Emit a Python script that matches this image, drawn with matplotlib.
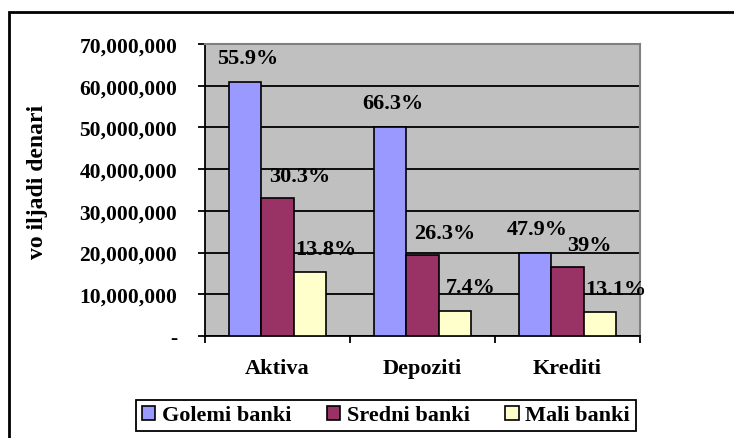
import numpy as np
import matplotlib
matplotlib.use('Agg')
import matplotlib.pyplot as plt
from matplotlib.patches import Rectangle
from matplotlib.ticker import FuncFormatter, MultipleLocator

# Banking sector structure by bank group
categories = ['Aktiva', 'Depoziti', 'Krediti']
series_names = ['Golemi banki', 'Sredni banki', 'Mali banki']
golemi = [60900000, 50100000, 19900000]
sredni = [33100000, 19400000, 16500000]
mali = [15300000, 6000000, 5700000]
golemi_pct = ['55.9%', '66.3%', '47.9%']
sredni_pct = ['30.3%', '26.3%', '39%']
mali_pct = ['13.8%', '7.4%', '13.1%']
y_label = 'vo iljadi denari'

colors = ['#9999FF', '#993366', '#FFFFCC']
label_offsets = [(2, 17), (16, 16), (11, 17)]

plt.rcParams['font.family'] = ['Liberation Serif', 'DejaVu Serif']
plt.rcParams['font.weight'] = 'bold'

fig = plt.figure(figsize=(7.34, 4.39), dpi=100)
ax = fig.add_axes([205/734, 1 - 337/439, 435/734, 292/439])
ax.set_facecolor('#C0C0C0')

x = np.arange(len(categories))
w = 0.225
all_vals = [golemi, sredni, mali]
all_pct = [golemi_pct, sredni_pct, mali_pct]
for i, (vals, pct) in enumerate(zip(all_vals, all_pct)):
    pos = x + (i - 1) * w
    ax.bar(pos, vals, w, color=colors[i], edgecolor='black', linewidth=1.2,
           label=series_names[i], zorder=3)
    for xp, v, t in zip(pos, vals, pct):
        ax.annotate(t, (xp, v), xytext=label_offsets[i], textcoords='offset points',
                    ha='center', va='center', fontsize=16, fontweight='bold', zorder=4)

ax.set_xlim(-0.5, 2.5)
ax.set_ylim(0, 70000000)
ax.yaxis.set_major_locator(MultipleLocator(10000000))
ax.yaxis.set_major_formatter(FuncFormatter(lambda v, p: '-' if v == 0 else f'{int(v):,}'))
ax.grid(axis='y', color='black', linewidth=1.3, zorder=1)

ax.set_xticks([-0.5, 0.5, 1.5, 2.5])
ax.set_xticklabels([])
ax.set_xticks(x, minor=True)
ax.set_xticklabels(categories, minor=True, fontsize=16, fontweight='bold')
ax.tick_params(axis='x', which='minor', length=0, pad=16)
ax.tick_params(axis='x', which='major', length=5, width=1.3, direction='out')
ax.tick_params(axis='y', length=5, width=1.3, direction='out', pad=15, labelsize=15.5)
for lb in ax.get_yticklabels():
    lb.set_fontweight('bold')

ax.spines['left'].set_color('black')
ax.spines['left'].set_linewidth(1.3)
ax.spines['bottom'].set_color('black')
ax.spines['bottom'].set_linewidth(1.3)
ax.spines['top'].set_color('#808080')
ax.spines['top'].set_linewidth(1.5)
ax.spines['right'].set_color('#808080')
ax.spines['right'].set_linewidth(1.5)

fig.text(38/734, 1 - 182/439, y_label, rotation=90, ha='center', va='center',
         fontsize=17, fontweight='bold')

leg = fig.legend(loc='center', bbox_to_anchor=(386/734, 1 - 416.5/439), ncol=3,
                 fancybox=False, edgecolor='black', framealpha=1, fontsize=16,
                 handlelength=0.6, handleheight=0.6, handletextpad=0.3,
                 columnspacing=1.6, borderpad=0.25, borderaxespad=0)
leg.get_frame().set_linewidth(1.3)

fig.patches.append(Rectangle((9/734, -0.1), 1.0, (439 - 13)/439 + 0.1,
                             transform=fig.transFigure, fill=False,
                             edgecolor='black', linewidth=2))

fig.savefig('out.png', dpi=100)
